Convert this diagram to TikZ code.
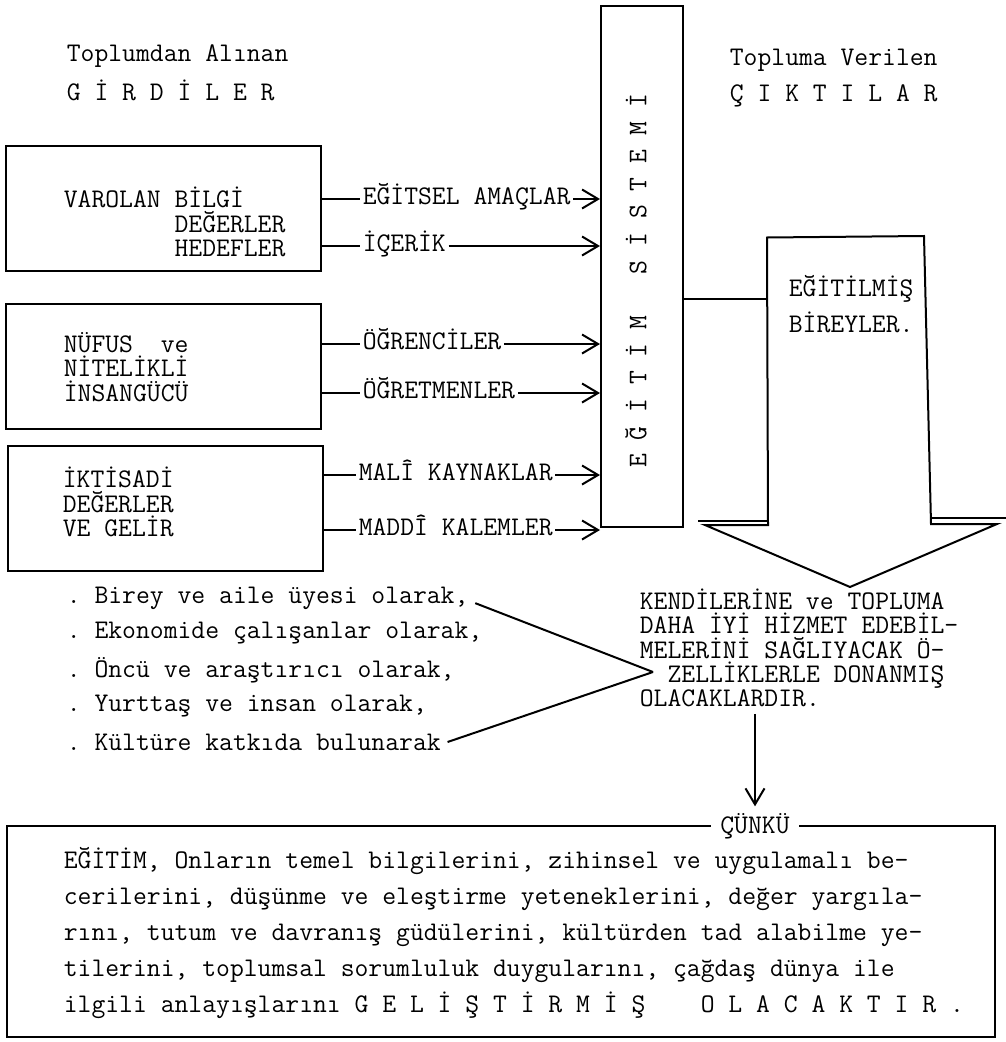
\documentclass[tikz,border=0pt]{standalone}
\usepackage{fontspec}
\usepackage{tikz}
\usetikzlibrary{arrows.meta,positioning}
\newcommand{\typew}{\fontsize{15.3}{20.6}\selectfont\ttfamily}
\newcommand{\typewtight}{\fontsize{15.3}{13.8}\selectfont\ttfamily}
\tikzset{inbox/.style={draw=black,line width=0.4mm,minimum width=6.3cm,minimum height=2.5cm,inner sep=0pt,anchor=north west}}
\tikzset{lbl/.style={anchor=west,inner sep=1pt,text height=1.4ex,text depth=0pt}}

\begin{document}
\begin{tikzpicture}[line width=0.4mm,>={Straight Barb[length=3.2mm,width=3.8mm]},every node/.style={font=\typew}]
\useasboundingbox (0,0) rectangle (20.12,-20.84);
% headings
\node (inHead) [anchor=west] at (1.2,-1.12) {Toplumdan Alınan};
\node (inHeadB) [anchor=west] at (1.2,-1.8) {G~İ~R~D~İ~L~E~R};
\node (outHead) [anchor=west] at (14.46,-1.2) {Topluma Verilen};
\node (outHeadB) [anchor=west] at (14.46,-1.92) {Ç~I~K~T~I~L~A~R};
%
\node (inA) [inbox] at (0.1,-2.9) {};
\node (inB) [inbox] at (0.1,-6.06) {};
\node (inC) [inbox] at (0.14,-8.9) {};
\node [anchor=west,align=left,font=\typewtight] at (1.14,-4.44) {VAROLAN BİLGİ\\\hphantom{VAROLAN~}DEĞERLER\\\hphantom{VAROLAN~}HEDEFLER};
\node [anchor=west,align=left,font=\typewtight] at (1.14,-7.34) {NÜFUS~~ve\\NİTELİKLİ\\İNSANGÜCÜ};
\node [anchor=west,align=left,font=\typewtight] at (1.12,-10.04) {İKTİSADİ\\DEĞERLER\\VE GELİR};
%
\node (sys) [draw,minimum width=1.64cm,minimum height=10.42cm,inner sep=0pt] at (12.84,-5.33) {};
\node (sysText) [rotate=90] at (12.72,-5.62) {E~Ğ~İ~T~İ~M~~~S~İ~S~T~E~M~İ};
%
\node (aims) [lbl] at (7.2,-3.98) {EĞİTSEL AMAÇLAR};
\node (content) [lbl] at (7.2,-4.92) {İÇERİK};
\node (pupils) [lbl] at (7.2,-6.88) {ÖĞRENCİLER};
\node (teachers) [lbl] at (7.2,-7.86) {ÖĞRETMENLER};
\node (funds) [lbl] at (7.12,-9.5) {MALÎ KAYNAKLAR};
\node (goods) [lbl] at (7.12,-10.6) {MADDÎ KALEMLER};
\draw (inA.east |- aims.west) -- (aims.west);
\draw (inA.east |- content.west) -- (content.west);
\draw (inB.east |- pupils.west) -- (pupils.west);
\draw (inB.east |- teachers.west) -- (teachers.west);
\draw (inC.east |- funds.west) -- (funds.west);
\draw (inC.east |- goods.west) -- (goods.west);
\draw[->] (aims.east) -- (sys.west |- aims.east);
\draw[->] (content.east) -- (sys.west |- content.east);
\draw[->] (pupils.east) -- (sys.west |- pupils.east);
\draw[->] (teachers.east) -- (sys.west |- teachers.east);
\draw[->] (funds.east) -- (sys.west |- funds.east);
\draw[->] (goods.east) -- (sys.west |- goods.east);
% big output arrow
\coordinate (join) at (15.34,-5.98);
\draw (sys.east |- join) -- (join);
\draw (15.34,-4.75) -- (18.48,-4.72) -- (18.62,-10.48) -- (19.94,-10.48) -- (17.0,-11.74)
  -- (14.1,-10.5) -- (15.36,-10.5) -- cycle;
\draw (13.96,-10.42) -- (15.36,-10.42);
\draw (18.6,-10.35) -- (20.12,-10.35);
\node (outText) [anchor=west,align=left] at (15.64,-6.08) {EĞİTİLMİŞ\\BİREYLER.};
%
\node (b1) [anchor=west] at (1.2,-11.96) {.~Birey ve aile üyesi olarak,};
\node (b2) [anchor=west] at (1.2,-12.66) {.~Ekonomide çalışanlar olarak,};
\node (b3) [anchor=west] at (1.2,-13.4) {.~Öncü ve araştırıcı olarak,};
\node (b4) [anchor=west] at (1.2,-14.12) {.~Yurttaş ve insan olarak,};
\node (b5) [anchor=west] at (1.2,-14.84) {.~Kültüre katkıda bulunarak};
\node (result) [anchor=west,align=left,font=\typewtight] at (12.66,-12.96) {KENDİLERİNE ve TOPLUMA\\DAHA İYİ HİZMET EDEBİL-\\MELERİNİ SAĞLIYACAK Ö-\\\hphantom{ÖÖ}ZELLİKLERLE DONANMIŞ\\OLACAKLARDIR.};
\coordinate (tip) at (13.06,-13.44);
\draw (b1.base east) -- (tip);
\draw (b5.east) -- (tip);
%
\node (because) [inner xsep=5pt] at (15.1,-16.52) {ÇÜNKÜ};
\draw[->] (because.north |- result.south) -- (because.north);
\draw (because.west) -| (0.14,-20.74) -| (19.9,-16.52) -- (because.east);
\node (body) [anchor=west,align=left] at (1.14,-18.66) {EĞİTİM, Onların temel bilgilerini, zihinsel ve uygulamalı be-\\cerilerini, düşünme ve eleştirme yeteneklerini, değer yargıla-\\rını, tutum ve davranış güdülerini, kültürden tad alabilme ye-\\tilerini, toplumsal sorumluluk duygularını, çağdaş dünya ile\\ilgili anlayışlarını G~E~L~İ~Ş~T~İ~R~M~İ~Ş~~~~O~L~A~C~A~K~T~I~R~.};
\end{tikzpicture}
\end{document}
